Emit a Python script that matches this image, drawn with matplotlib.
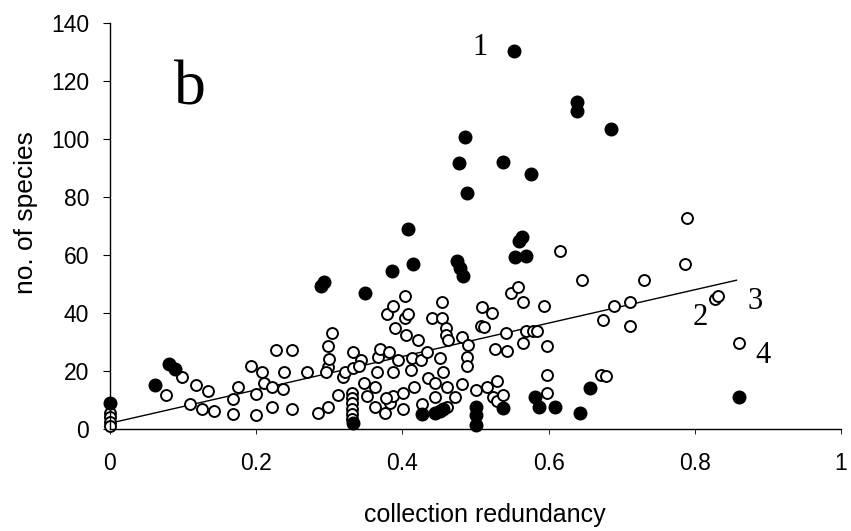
import numpy as np
import matplotlib
matplotlib.use('Agg')
import matplotlib.pyplot as plt

# filled circles (x = collection redundancy, y = no. of species)
filled_x = [0.552, 0.639, 0.639, 0.686, 0.486, 0.478, 0.537, 0.576, 0.489, 0.408,
            0.563, 0.560, 0.415, 0.386, 0.475, 0.479, 0.483, 0.554, 0.569, 0.293,
            0.288, 0.349, 0.081, 0.089, 0.062, 0.0, 0.333, 0.427, 0.445, 0.452,
            0.456, 0.500, 0.500, 0.500, 0.538, 0.582, 0.587, 0.609, 0.643, 0.656,
            0.860]
filled_y = [130.3, 112.8, 109.7, 103.4, 100.7, 91.7, 92.0, 87.9, 81.4, 69.0,
            66.3, 65.0, 56.9, 54.5, 58.0, 55.5, 52.8, 59.3, 59.7, 50.7,
            49.3, 46.9, 22.4, 20.7, 15.2, 9.0, 2.2, 5.2, 5.5, 6.2,
            6.9, 7.6, 4.8, 1.4, 7.2, 11.0, 7.6, 7.6, 5.5, 14.1,
            11.0]

# open circles
open_x = [0.0, 0.0, 0.0, 0.0,
          0.077, 0.098, 0.110, 0.118, 0.126, 0.134, 0.142, 0.168, 0.168, 0.175,
          0.193, 0.200, 0.200, 0.208, 0.211, 0.222, 0.222, 0.227, 0.237, 0.238,
          0.249, 0.249, 0.270, 0.285, 0.298, 0.298, 0.300, 0.298, 0.304, 0.296,
          0.312, 0.319, 0.322,
          0.331, 0.331, 0.331, 0.331, 0.331, 0.331,
          0.333, 0.333, 0.344, 0.341, 0.348, 0.351, 0.362, 0.362, 0.365, 0.367,
          0.370, 0.376, 0.379, 0.382, 0.383, 0.387, 0.390, 0.387, 0.387, 0.378,
          0.394, 0.401, 0.401, 0.404, 0.404, 0.407, 0.405, 0.412, 0.413, 0.416,
          0.421, 0.427, 0.426, 0.434, 0.435, 0.440, 0.445, 0.445, 0.452, 0.454,
          0.454, 0.456, 0.459, 0.459, 0.461, 0.461, 0.463, 0.472, 0.482, 0.490,
          0.489, 0.489, 0.482, 0.500, 0.516, 0.530, 0.524, 0.530, 0.538, 0.509,
          0.523, 0.507, 0.511, 0.542, 0.527, 0.543, 0.548, 0.558, 0.565, 0.565,
          0.569, 0.578, 0.584, 0.594, 0.598, 0.598, 0.598, 0.616, 0.646, 0.675,
          0.690, 0.711, 0.711, 0.671, 0.678, 0.730, 0.786, 0.789, 0.828, 0.832,
          0.860]
open_y = [5.5, 4.1, 2.4, 1.2,
          11.7, 17.9, 8.6, 15.2, 6.9, 13.1, 6.2, 5.2, 10.3, 14.5,
          21.7, 12.1, 4.8, 19.7, 15.9, 14.5, 7.6, 27.2, 13.8, 19.7,
          27.2, 6.9, 19.7, 5.5, 7.6, 21.4, 24.1, 28.6, 33.1, 19.7,
          11.7, 17.9, 19.7,
          12.4, 10.7, 9.0, 6.9, 5.2, 3.4,
          26.6, 21.0, 23.8, 21.7, 15.9, 11.4, 7.6, 14.5, 19.7, 24.8,
          27.6, 5.5, 39.7, 26.6, 9.0, 42.4, 34.8, 19.7, 11.4, 10.7,
          23.8, 6.9, 12.4, 45.9, 38.3, 39.7, 32.4, 20.3, 24.5, 14.5,
          30.7, 8.6, 23.8, 26.6, 17.6, 38.3, 11.0, 15.9, 24.5, 43.8,
          38.3, 19.7, 34.8, 32.4, 14.5, 7.6, 30.7, 11.0, 31.7, 29.0,
          24.8, 21.7, 15.5, 13.4, 14.5, 16.6, 11.0, 9.7, 11.7, 42.1,
          40.0, 35.5, 35.2, 33.1, 27.6, 26.9, 46.9, 49.0, 43.8, 29.7,
          33.8, 33.8, 33.8, 42.4, 28.6, 18.6, 12.4, 61.4, 51.4, 37.6,
          42.4, 43.8, 35.5, 18.6, 18.3, 51.4, 56.9, 72.8, 44.8, 45.9,
          29.7]

# regression line end points
fit_x = [0.0, 0.857]
fit_y = [2.0, 51.3]

# point annotations
note_text = ['1', '2', '3', '4']
note_x = [0.506, 0.808, 0.883, 0.893]
note_y = [131.4, 38.3, 43.8, 25.2]

xticks = [0, 0.2, 0.4, 0.6, 0.8, 1]
xticklabels = ['0', '0.2', '0.4', '0.6', '0.8', '1']
yticks = [0, 20, 40, 60, 80, 100, 120, 140]

plt.rcParams['font.family'] = ['Liberation Sans', 'DejaVu Sans']

fig = plt.figure(figsize=(8.51, 5.31), dpi=100)
ax = fig.add_axes([110 / 851, 102 / 531, 731 / 851, 406 / 531])

ax.plot(fit_x, fit_y, color='black', lw=1.0, zorder=1)
ax.scatter(open_x, open_y, s=62, facecolors='white', edgecolors='black',
           linewidths=1.4, zorder=2, clip_on=False)
ax.scatter(filled_x, filled_y, s=82, color='black', zorder=3, clip_on=False)

ax.set_xlim(0, 1.0)
ax.set_ylim(0, 140)
ax.set_xticks(xticks)
ax.set_xticklabels(xticklabels)
ax.set_yticks(yticks)

for side in ['top', 'right']:
    ax.spines[side].set_visible(False)
for side in ['left', 'bottom']:
    ax.spines[side].set_linewidth(1.0)

ax.tick_params(axis='y', direction='out', length=5, width=0.8, pad=10, labelsize=16.5)
ax.tick_params(axis='x', direction='out', length=3.5, width=0.6, pad=13, labelsize=16.5)

ax.set_xlabel('collection redundancy', fontsize=18)
ax.xaxis.set_label_coords(0.513, -0.212)
ax.xaxis.label.set_va('center')
ax.set_ylabel('no. of species', fontsize=19)
ax.yaxis.set_label_coords(-0.115, 0.534)
ax.yaxis.label.set_va('center')

ax.text(0.11, 117, 'b', family='Liberation Serif', fontsize=46,
        ha='center', va='center')
for t, x, y in zip(note_text, note_x, note_y):
    ax.text(x, y, t, family='Liberation Serif', fontsize=22,
            ha='center', va='center')

fig.savefig('out.png', dpi=100)
